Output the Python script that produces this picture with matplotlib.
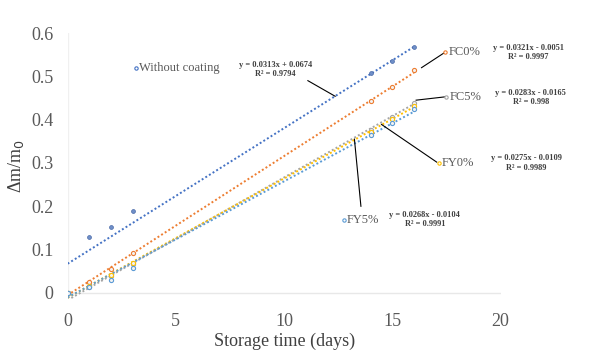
import numpy as np
import matplotlib.pyplot as plt

plt.rcParams['font.family'] = ['Liberation Serif', 'DejaVu Serif']

# measured values
days = [0, 1, 2, 3, 14, 15, 16]
without_coating = [0, 0.128, 0.152, 0.188, 0.507, 0.536, 0.567]
fc0 = [0, 0.026, 0.055, 0.092, 0.443, 0.476, 0.515]
fc5 = [0, 0.013, 0.039, 0.066, 0.376, 0.407, 0.438]
fy0 = [0, 0.016, 0.042, 0.070, 0.372, 0.401, 0.432]
fy5 = [0, 0.014, 0.030, 0.058, 0.364, 0.393, 0.424]

series_names = ['Without coating', 'FC0%', 'FC5%', 'FY0%', 'FY5%']
series_values = [without_coating, fc0, fc5, fy0, fy5]
colors = ['#4472C4', '#ED7D31', '#A5A5A5', '#FFC000', '#5B9BD5']

# linear trendline coefficients as printed on the chart
slopes = [0.0313, 0.0321, 0.0283, 0.0275, 0.0268]
intercepts = [0.0674, -0.0051, -0.0165, -0.0109, -0.0104]
r2_values = ['0.9794', '0.9997', '0.998', '0.9989', '0.9991']

# label anchor (series-name label) and equation position, in data units
name_pos = [(3.15, 0.52), (17.45, 0.556), (17.5, 0.453), (17.15, 0.30), (12.75, 0.169)]
eq_pos = [(9.6, 0.515), (21.3, 0.555), (21.4, 0.452), (21.2, 0.30), (16.5, 0.169)]
leader_from = [(12.36, 0.454), (16.35, 0.52), (16.1, 0.445), (14.5, 0.389), (13.25, 0.355)]
leader_to = [(11.1, 0.49), (17.45, 0.556), (17.5, 0.453), (17.05, 0.302), (13.55, 0.20)]

fig = plt.figure(figsize=(5.89, 3.59), dpi=100)
ax = fig.add_axes([0.1148, 0.166, 0.735, 0.742])

x_fit = np.array([0, 16])
for i in range(len(series_names)):
    y_fit = slopes[i] * x_fit + intercepts[i]
    ax.plot(x_fit, y_fit, linestyle=(0, (1, 1.2)), color=colors[i], lw=1.4, zorder=2)

for i in range(len(series_names)):
    if i == 0:
        ax.plot(days, series_values[i], 'o', ms=2.8, color='#6F8FC8', mec='#4A6AA8', mew=0.5, zorder=3)
    else:
        ax.plot(days, series_values[i], 'o', ms=3.0, mfc='#F2F2F2', mec=colors[i], mew=0.8, zorder=3)

for i in range(len(series_names)):
    ax.plot([leader_from[i][0], leader_to[i][0]], [leader_from[i][1], leader_to[i][1]],
            color='black', lw=0.8, zorder=4)
    nx, ny = name_pos[i]
    ax.plot([nx], [ny], 'o', ms=2.4, mfc='white', mec=colors[i], mew=0.8, zorder=5, clip_on=False)
    ax.text(nx + 0.15, ny, series_names[i], fontsize=9, color='#595959', ha='left', va='center')
    ex, ey = eq_pos[i]
    sign = '+' if intercepts[i] >= 0 else '-'
    eq = 'y = %.4fx %s %.4f\nR² = %s' % (slopes[i], sign, abs(intercepts[i]), r2_values[i])
    ax.text(ex, ey, eq, fontsize=6, fontweight='bold', color='#404040', ha='center', va='center',
            linespacing=1.2, clip_on=False)

ax.set_xlim(0, 20)
ax.set_ylim(-0.015, 0.6)
ax.set_xticks([0, 5, 10, 15, 20])
ax.set_yticks([0, 0.1, 0.2, 0.3, 0.4, 0.5, 0.6])
ax.set_yticklabels(['0', '0.1', '0.2', '0.3', '0.4', '0.5', '0.6'])
ax.tick_params(length=0, labelsize=13, labelcolor='#595959', pad=10)
for s in ax.spines.values():
    s.set_visible(False)
ax.axhline(0, color='#E8E8E8', lw=1, zorder=1)
ax.axvline(0, ymin=0.024, color='#F0F0F0', lw=1, zorder=1)

ax.set_xlabel('Storage time (days)', fontsize=13, color='#404040', labelpad=2)
ax.set_ylabel('Δm/m$_0$', fontsize=13, color='#404040', labelpad=4)

fig.savefig('out.png', dpi=100)
